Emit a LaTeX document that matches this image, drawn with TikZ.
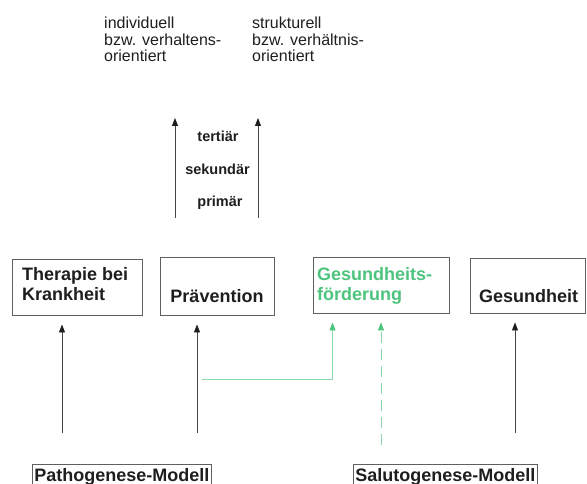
\documentclass[tikz,border=0pt]{standalone}
\usepackage{fontspec}
\setmainfont{Liberation Sans}
\usetikzlibrary{arrows.meta}
\definecolor{gtxt}{RGB}{77,196,125}
\definecolor{gline}{RGB}{140,215,170}
\definecolor{ink}{RGB}{30,30,30}
\definecolor{frame}{RGB}{95,95,95}
\definecolor{aline}{RGB}{70,70,70}
\begin{document}
\begin{tikzpicture}[x=1pt,y=-1pt,
  box/.style={draw=frame, line width=0.9pt, inner sep=0pt},
  bt/.style={font=\fontsize{18}{20}\selectfont\bfseries, text=ink, inner sep=0pt, anchor=base west},
  gt/.style={bt, text=gtxt},
  tt/.style={font=\fontsize{16}{18}\selectfont, text=ink, inner sep=0pt, anchor=base west},
  mt/.style={font=\fontsize{14.5}{16}\selectfont\bfseries, text=ink, inner sep=0pt, anchor=base},
  mod/.style={draw=frame, line width=0.9pt, font=\fontsize{18}{20}\selectfont\bfseries, text=ink,
    inner xsep=2pt, inner ysep=3.5pt, anchor=base west},
  arr/.style={draw=aline, line width=0.8pt, -{Triangle[length=8pt,width=6pt,color=ink,fill=ink]}, shorten >=9pt},
  uparr/.style={draw=aline, line width=0.8pt, -{Triangle[length=8pt,width=6pt,color=ink,fill=ink]}},
  garr/.style={draw=gline, line width=0.9pt, -{Triangle[length=8pt,width=6pt,color=gtxt,fill=gtxt]}, shorten >=9pt},
]
\path[use as bounding box, clip] (0,0) rectangle (587,484);

% top texts
\node[tt] (i1) at (104,29) {individuell};
\node[tt] (i2) at (104,45.5) {bzw. verhaltens-};
\node[tt] (i3) at (104,62) {orientiert};
\node[tt] (s1) at (252,29) {strukturell};
\node[tt] (s2) at (252,45.5) {bzw. verhältnis-};
\node[tt] (s3) at (252,62) {orientiert};

% prevention levels
\coordinate (la) at (175,218);
\coordinate (lb) at (175,118);
\coordinate (ra) at (258,218);
\coordinate (rb) at (258,118);
\draw[uparr] (la) -- (lb);
\draw[uparr] (ra) -- (rb);
\node[mt] (tert) at (218,142) {tertiär};
\node[mt] (sek) at (217.5,175) {sekundär};
\node[mt] (prim) at (220,207) {primär};

% boxes
\node[box, minimum width=130pt, minimum height=56pt] (ther) at (77,287) {};
\node[box, minimum width=114pt, minimum height=58pt] (praev) at (217,286) {};
\node[box, minimum width=136pt, minimum height=56pt] (gf) at (381,285) {};
\node[box, minimum width=115pt, minimum height=55pt] (ges) at (527.5,285.5) {};

\node[bt] (th1) at (22,280) {Therapie bei};
\node[bt] (th2) at (22,300) {Krankheit};
\node[bt, anchor=base] (pv) at (217,302) {Prävention};
\node[gt] (gf1) at (317,280) {Gesundheits-};
\node[gt] (gf2) at (317,301) {förderung};
\node[bt] (gs) at (479,302) {Gesundheit};

% bottom models
\node[mod] (path) at (32,481) {Pathogenese-Modell};
\node[mod] (salu) at (353,481) {Salutogenese-Modell};

% bottom arrows
\coordinate (a1) at (62,433);
\coordinate (a2) at (197,433);
\coordinate (a4) at (515,433);
\coordinate (g0) at (202,379);
\coordinate (d0) at (381,445);
\draw[arr] (a1) -- (a1 |- ther.south);
\draw[arr] (a2) -- (a2 |- praev.south);
\draw[arr] (a4) -- (a4 |- ges.south);
\draw[garr] (g0) -| ([xshift=20pt]gf.south west);
\draw[garr, dash pattern=on 11pt off 6pt] (d0) -- (gf.south);
\end{tikzpicture}
\end{document}
